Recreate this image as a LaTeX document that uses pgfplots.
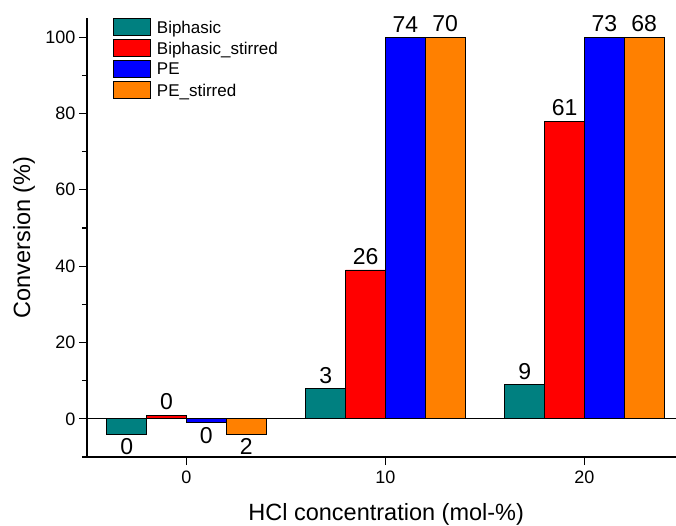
\documentclass[border=0pt]{standalone}
\usepackage{fontspec}
\setmainfont{Liberation Sans}
\usepackage{pgfplots}
\pgfplotsset{compat=1.18}
\definecolor{cteal}{RGB}{0,128,128}
\definecolor{corange}{RGB}{255,128,0}
\definecolor{cred}{RGB}{255,0,0}
\definecolor{cblue}{RGB}{0,0,255}

\pgfplotsset{mybar/.style={draw=black, line width=0.8pt, forget plot,
  nodes near coords, point meta=explicit symbolic},
  neglabel/.style={draw=none, fill=none, forget plot,
  nodes near coords, point meta=explicit symbolic,
  every node near coord/.append style={anchor=north}}}

\begin{document}
\begin{tikzpicture}
\path[use as bounding box] (-87pt,-68pt) rectangle (589pt,457pt);
\begin{axis}[
  scale only axis, width=589pt, height=439pt,
  xmin=-5, xmax=24.6, ymin=-10, ymax=105,
  axis x line*=bottom, axis y line*=left,
  axis line style={line width=1.3pt, -},
  xtick={0,10,20}, ytick={0,20,...,100},
  minor ytick={-10,10,30,50,70,90},
  tick align=outside, major tick length=8pt, minor tick length=5pt,
  tick style={line width=1.1pt, black},
  ticklabel style={font=\fontsize{18}{21}\selectfont},
  xticklabel style={yshift=-2pt},
  /pgf/number format/assume math mode=true,
  xlabel={HCl concentration (mol-\%)}, ylabel={Conversion (\%)},
  label style={font=\fontsize{23.5}{27}\selectfont},
  xlabel style={at={(axis description cs:0.508,-0.1298)}, anchor=center},
  ylabel style={at={(axis description cs:-0.107,0.5)}, anchor=center},
  ybar, bar width=2,
  every node near coord/.append style={font=\fontsize{23}{26}\selectfont, inner xsep=0pt, inner ysep=4.5pt},
  legend image code/.code={\draw[#1, draw=black, line width=0.8pt] (0pt,-8.5pt) rectangle (37pt,8.5pt);},
  legend style={draw=none, fill=none, at={(axis description cs:0.044,1)}, anchor=north west,
    inner sep=0pt, font=\fontsize{17}{20}\selectfont, row sep=3.2pt,
    cells={anchor=west}, nodes={inner ysep=0pt, inner xsep=6pt, text depth=0pt}},
  clip=false,
]
\addlegendimage{fill=cteal}
\addlegendentry{Biphasic}
\addlegendimage{fill=cred}
\addlegendentry{Biphasic\_stirred}
\addlegendimage{fill=cblue}
\addlegendentry{PE}
\addlegendimage{fill=corange}
\addlegendentry{PE\_stirred}
% Biphasic
\addplot[fill=cteal, mybar, bar shift=-3] coordinates {(0,-4) [{}] (10,8) [3] (20,9) [9]};
% Biphasic_stirred
\addplot[fill=cred, mybar, bar shift=-1] coordinates {(0,1) [0] (10,39) [26] (20,78) [61]};
% PE
\addplot[fill=cblue, mybar, bar shift=1] coordinates {(0,-0.9) [{}] (10,100) [74] (20,100) [73]};
% PE_stirred
\addplot[fill=corange, mybar, bar shift=3] coordinates {(0,-4) [{}] (10,100) [70] (20,100) [68]};
% labels of the bars below zero
\addplot[neglabel, bar shift=-3] coordinates {(0,-4) [0]};
\addplot[neglabel, bar shift=1] coordinates {(0,-0.9) [0]};
\addplot[neglabel, bar shift=3] coordinates {(0,-4) [2]};
\draw[line width=1.1pt] (axis cs:-5,0) -- (axis cs:24.6,0);
\end{axis}
\end{tikzpicture}
\end{document}
